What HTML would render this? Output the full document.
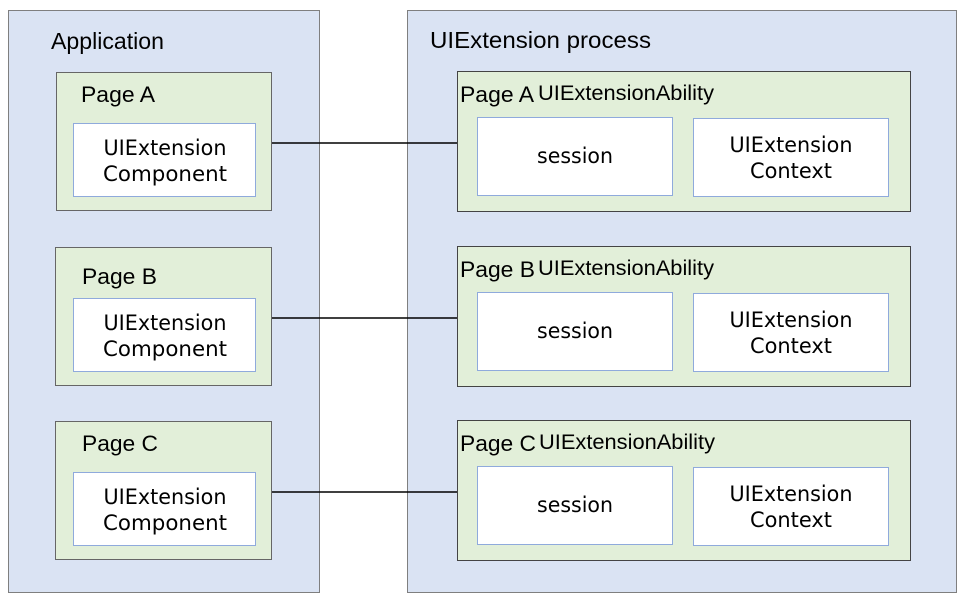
<!DOCTYPE html>
<html><head><style>body{margin:0;background:#fff}svg{display:block}</style></head><body>
<svg width="965" height="599" xmlns="http://www.w3.org/2000/svg" font-family="Liberation Sans, sans-serif">
<rect x="8.5" y="10.5" width="311" height="582" fill="#dae3f3" stroke="#7f7f7f"/>
<rect x="407.5" y="10.5" width="549" height="582" fill="#dae3f3" stroke="#7f7f7f"/>
<text x="51" y="49" font-size="23" textLength="113" lengthAdjust="spacingAndGlyphs">Application</text>
<text x="430" y="48" font-size="23" textLength="221" lengthAdjust="spacingAndGlyphs">UIExtension process</text>
<g>
<line x1="272" y1="143" x2="457" y2="143" stroke="#000" stroke-width="1.5"/>
<rect x="56.5" y="72.5" width="215" height="138" fill="#e2efd9" stroke="#666"/>
<text x="81" y="102" font-size="22" textLength="74" lengthAdjust="spacingAndGlyphs">Page A</text>
<rect x="73.5" y="123.5" width="182" height="73" fill="#fff" stroke="#8faadc"/>
<text x="165" y="155" font-size="21" text-anchor="middle" font-family="DejaVu Sans, sans-serif" textLength="123" lengthAdjust="spacingAndGlyphs">UIExtension</text>
<text x="165" y="181" font-size="21" text-anchor="middle" font-family="DejaVu Sans, sans-serif" textLength="124" lengthAdjust="spacingAndGlyphs">Component</text>
<rect x="457.5" y="71.5" width="453" height="140" fill="#e2efd9" stroke="#444"/>
<text x="460" y="102" font-size="22" textLength="74" lengthAdjust="spacingAndGlyphs">Page A</text>
<text x="538" y="100" font-size="21" textLength="176" lengthAdjust="spacingAndGlyphs">UIExtensionAbility</text>
<rect x="477.5" y="117.5" width="195" height="78" fill="#fff" stroke="#8faadc"/>
<text x="575" y="163" font-size="21" text-anchor="middle" font-family="DejaVu Sans, sans-serif" textLength="76" lengthAdjust="spacingAndGlyphs">session</text>
<rect x="693.5" y="118.5" width="195" height="78" fill="#fff" stroke="#8faadc"/>
<text x="791" y="152" font-size="21" text-anchor="middle" font-family="DejaVu Sans, sans-serif" textLength="123" lengthAdjust="spacingAndGlyphs">UIExtension</text>
<text x="791" y="178" font-size="21" text-anchor="middle" font-family="DejaVu Sans, sans-serif" textLength="82" lengthAdjust="spacingAndGlyphs">Context</text>
</g>
<g transform="translate(0,175)">
<line x1="272" y1="143" x2="457" y2="143" stroke="#000" stroke-width="1.5"/>
<rect x="55.5" y="72.5" width="216" height="138" fill="#e2efd9" stroke="#666"/>
<text x="82" y="109" font-size="22" textLength="75" lengthAdjust="spacingAndGlyphs">Page B</text>
<rect x="73.5" y="123.5" width="182" height="73" fill="#fff" stroke="#8faadc"/>
<text x="165" y="155" font-size="21" text-anchor="middle" font-family="DejaVu Sans, sans-serif" textLength="123" lengthAdjust="spacingAndGlyphs">UIExtension</text>
<text x="165" y="181" font-size="21" text-anchor="middle" font-family="DejaVu Sans, sans-serif" textLength="124" lengthAdjust="spacingAndGlyphs">Component</text>
<rect x="457.5" y="71.5" width="453" height="140" fill="#e2efd9" stroke="#444"/>
<text x="460" y="102" font-size="22" textLength="75" lengthAdjust="spacingAndGlyphs">Page B</text>
<text x="538" y="100" font-size="21" textLength="176" lengthAdjust="spacingAndGlyphs">UIExtensionAbility</text>
<rect x="477.5" y="117.5" width="195" height="78" fill="#fff" stroke="#8faadc"/>
<text x="575" y="163" font-size="21" text-anchor="middle" font-family="DejaVu Sans, sans-serif" textLength="76" lengthAdjust="spacingAndGlyphs">session</text>
<rect x="693.5" y="118.5" width="195" height="78" fill="#fff" stroke="#8faadc"/>
<text x="791" y="152" font-size="21" text-anchor="middle" font-family="DejaVu Sans, sans-serif" textLength="123" lengthAdjust="spacingAndGlyphs">UIExtension</text>
<text x="791" y="178" font-size="21" text-anchor="middle" font-family="DejaVu Sans, sans-serif" textLength="82" lengthAdjust="spacingAndGlyphs">Context</text>
</g>
<g transform="translate(0,349)">
<line x1="272" y1="143" x2="457" y2="143" stroke="#000" stroke-width="1.5"/>
<rect x="55.5" y="72.5" width="216" height="138" fill="#e2efd9" stroke="#666"/>
<text x="82" y="102" font-size="22" textLength="76" lengthAdjust="spacingAndGlyphs">Page C</text>
<rect x="73.5" y="123.5" width="182" height="73" fill="#fff" stroke="#8faadc"/>
<text x="165" y="155" font-size="21" text-anchor="middle" font-family="DejaVu Sans, sans-serif" textLength="123" lengthAdjust="spacingAndGlyphs">UIExtension</text>
<text x="165" y="181" font-size="21" text-anchor="middle" font-family="DejaVu Sans, sans-serif" textLength="124" lengthAdjust="spacingAndGlyphs">Component</text>
<rect x="457.5" y="71.5" width="453" height="140" fill="#e2efd9" stroke="#444"/>
<text x="460" y="102" font-size="22" textLength="76" lengthAdjust="spacingAndGlyphs">Page C</text>
<text x="539" y="100" font-size="21" textLength="176" lengthAdjust="spacingAndGlyphs">UIExtensionAbility</text>
<rect x="477.5" y="117.5" width="195" height="78" fill="#fff" stroke="#8faadc"/>
<text x="575" y="163" font-size="21" text-anchor="middle" font-family="DejaVu Sans, sans-serif" textLength="76" lengthAdjust="spacingAndGlyphs">session</text>
<rect x="693.5" y="118.5" width="195" height="78" fill="#fff" stroke="#8faadc"/>
<text x="791" y="152" font-size="21" text-anchor="middle" font-family="DejaVu Sans, sans-serif" textLength="123" lengthAdjust="spacingAndGlyphs">UIExtension</text>
<text x="791" y="178" font-size="21" text-anchor="middle" font-family="DejaVu Sans, sans-serif" textLength="82" lengthAdjust="spacingAndGlyphs">Context</text>
</g>
</svg>
</body></html>
